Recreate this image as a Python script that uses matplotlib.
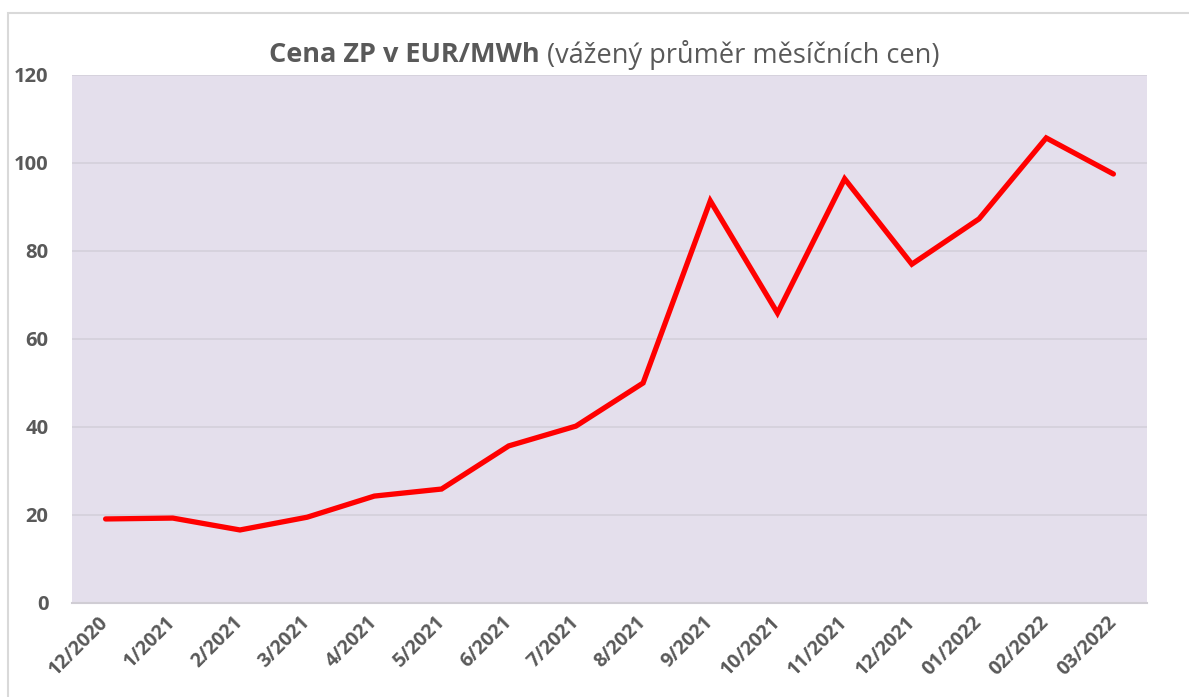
import matplotlib
matplotlib.use('Agg')
import matplotlib.pyplot as plt
from matplotlib.patches import Rectangle

months = ['12/2020', '1/2021', '2/2021', '3/2021', '4/2021', '5/2021', '6/2021',
          '7/2021', '8/2021', '9/2021', '10/2021', '11/2021', '12/2021',
          '01/2022', '02/2022', '03/2022']
prices = [19.1, 19.3, 16.6, 19.5, 24.3, 25.9, 35.7, 40.2, 50.0, 91.4,
          65.9, 96.4, 77.0, 87.3, 105.7, 97.5]
y_ticks = [0, 20, 40, 60, 80, 100, 120]

GRAY = '#595959'
plt.rcParams['font.family'] = ['Open Sans', 'DejaVu Sans']


def main():
    fig = plt.figure(figsize=(11.89, 6.97), dpi=100)
    fig.patch.set_facecolor('white')

    # chart area border (partly cut off on the right and bottom)
    fig.patches.append(Rectangle((8 / 1189, -0.1), 1.2, 0.1 + (697 - 13) / 697,
                                 transform=fig.transFigure, fill=False,
                                 edgecolor='#d9d9d9', linewidth=1.5))

    ax = fig.add_axes([72 / 1189, 1 - 603 / 697, 1075 / 1189, 528 / 697])
    ax.set_facecolor('#e4dfec')

    x = list(range(len(months)))
    ax.plot(x, prices, color='#ff0000', linewidth=3.8, solid_capstyle='round',
            solid_joinstyle='miter', zorder=3)

    ax.set_xlim(-0.5, len(months) - 0.5)
    ax.set_ylim(0, 120)
    ax.set_yticks(y_ticks)
    ax.set_yticklabels([str(v) for v in y_ticks], fontsize=14.5,
                       fontweight='bold', color=GRAY)
    ax.set_xticks(x)
    ax.set_xticklabels(months, fontsize=14, fontweight='bold', color=GRAY,
                       rotation=45, ha='right', va='center',
                       rotation_mode='anchor')
    ax.tick_params(axis='both', length=0)
    ax.tick_params(axis='y', pad=17)
    ax.tick_params(axis='x', pad=12)

    ax.grid(axis='y', color='#d4d0da', linewidth=1.2)
    ax.set_axisbelow(True)
    for side in ['top', 'right', 'left']:
        ax.spines[side].set_visible(False)
    ax.spines['bottom'].set_color('#d0cdd4')
    ax.spines['bottom'].set_linewidth(1.5)

    # title: bold part + normal part, centred together
    t1 = fig.text(0, 1 - 55 / 697, 'Cena ZP v EUR/MWh', fontsize=19.5,
                  fontweight='bold', color=GRAY, va='center', ha='left')
    t2 = fig.text(0, 1 - 55 / 697, ' (vážený průměr měsíčních cen)',
                  fontsize=19.5, color=GRAY, va='center', ha='left')
    fig.canvas.draw()
    r = fig.canvas.get_renderer()
    w1 = t1.get_window_extent(r).width
    w2 = t2.get_window_extent(r).width
    start = 604 - (w1 + w2) / 2
    t1.set_x(start / 1189)
    t2.set_x((start + w1) / 1189)

    fig.savefig('out.png', dpi=100)


main()
